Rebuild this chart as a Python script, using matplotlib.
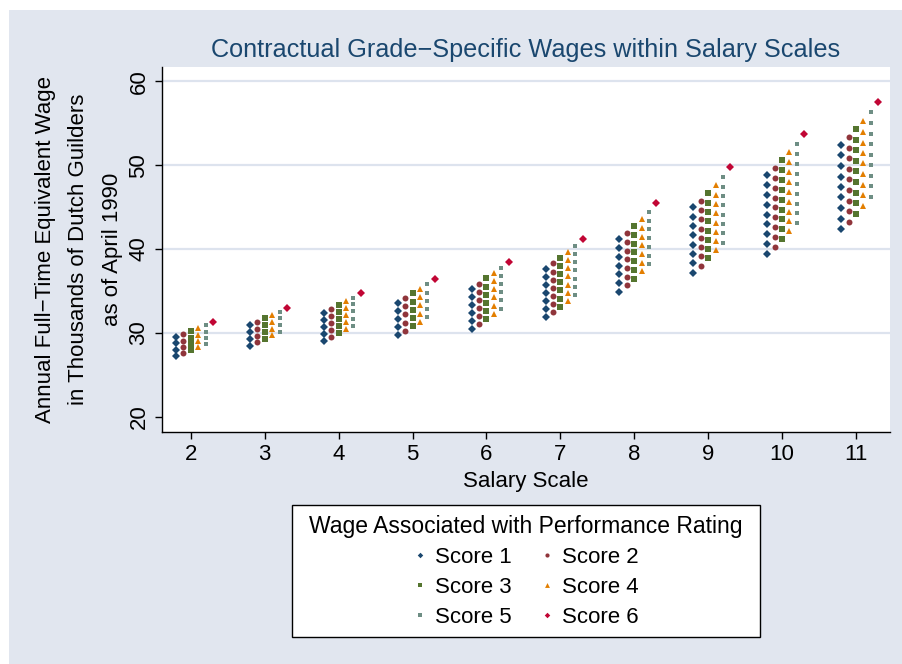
import matplotlib
matplotlib.use('Agg')
import matplotlib.pyplot as plt
from matplotlib.patches import Rectangle

plt.rcParams['font.family'] = ['Liberation Sans', 'DejaVu Sans']

# salary scales on the x axis
scales = [2, 3, 4, 5, 6, 7, 8, 9, 10, 11]

# wages (thousands of guilders) per scale, one list per performance score
score1 = [
    [29.52, 28.77, 28.02, 27.26],
    [30.90, 30.08, 29.27, 28.45],
    [32.38, 31.51, 30.68, 29.85, 29.01],
    [33.62, 32.67, 31.67, 30.68, 29.73],
    [35.29, 34.33, 33.33, 32.38, 31.43, 30.44],
    [37.62, 36.67, 35.71, 34.73, 33.77, 32.82, 31.87],
    [41.15, 40.08, 39.05, 38.02, 36.99, 35.95, 34.93],
    [44.96, 43.86, 42.74, 41.63, 40.52, 39.40, 38.30, 37.19],
    [48.82, 47.62, 46.48, 45.29, 44.10, 42.94, 41.75, 40.56, 39.37],
    [52.46, 51.19, 49.93, 48.65, 47.43, 46.15, 44.88, 43.62, 42.35],
]
score2 = [
    [29.85, 29.10, 28.33, 27.58],
    [31.31, 30.48, 29.69, 28.89],
    [32.82, 31.99, 31.15, 30.32, 29.49],
    [34.17, 33.18, 32.23, 31.24, 30.24],
    [35.88, 34.93, 33.98, 32.98, 32.02, 31.04],
    [38.33, 37.31, 36.36, 35.36, 34.40, 33.42, 32.46],
    [41.90, 40.88, 39.81, 38.77, 37.74, 36.71, 35.68],
    [45.76, 44.64, 43.54, 42.43, 41.36, 40.24, 39.13, 38.02],
    [49.64, 48.45, 47.26, 46.12, 44.96, 43.77, 42.62, 41.43, 40.29],
    [53.33, 52.07, 50.80, 49.57, 48.30, 47.02, 45.76, 44.52, 43.26],
]
score3 = [
    [30.20, 29.45, 28.69, 27.94],
    [31.75, 30.92, 30.12, 29.29],
    [33.30, 32.46, 31.63, 30.80, 29.96],
    [34.73, 33.74, 32.74, 31.75, 30.80],
    [36.51, 35.52, 34.57, 33.62, 32.62, 31.67],
    [38.98, 37.98, 37.02, 36.04, 35.08, 34.10, 33.14],
    [42.74, 41.67, 40.64, 39.61, 38.57, 37.55, 36.48],
    [46.63, 45.52, 44.40, 43.30, 42.19, 41.12, 40.00, 38.89],
    [50.60, 49.40, 48.21, 47.07, 45.88, 44.69, 43.54, 42.35, 41.19],
    [54.29, 53.02, 51.75, 50.48, 49.25, 47.98, 46.71, 45.48, 44.21],
]
score4 = [
    [30.56, 29.81, 29.05, 28.30],
    [32.14, 31.31, 30.52, 29.73],
    [33.77, 32.94, 32.11, 31.27, 30.44],
    [35.29, 34.25, 33.30, 32.31, 31.36],
    [37.11, 36.15, 35.20, 34.25, 33.26, 32.31],
    [39.64, 38.69, 37.70, 36.75, 35.76, 34.81, 33.86],
    [43.57, 42.50, 41.48, 40.44, 39.40, 38.38, 37.35],
    [47.58, 46.48, 45.36, 44.25, 43.14, 42.02, 40.95, 39.85],
    [51.55, 50.36, 49.17, 47.98, 46.79, 45.64, 44.45, 43.30, 42.11],
    [55.24, 53.98, 52.70, 51.43, 50.20, 48.93, 47.67, 46.43, 45.17],
]
score5 = [
    [30.92, 30.17, 29.40, 28.65],
    [32.55, 31.75, 30.95, 30.12],
    [34.21, 33.42, 32.58, 31.71, 30.88],
    [35.80, 34.81, 33.81, 32.86, 31.90],
    [37.74, 36.79, 35.83, 34.85, 33.89, 32.90],
    [40.36, 39.40, 38.42, 37.46, 36.48, 35.52, 34.57],
    [44.40, 43.38, 42.35, 41.27, 40.24, 39.21, 38.18],
    [48.54, 47.43, 46.31, 45.20, 44.10, 42.98, 41.87, 40.76],
    [52.50, 51.31, 50.12, 48.93, 47.79, 46.60, 45.40, 44.25, 43.06],
    [56.31, 55.05, 53.77, 52.50, 51.24, 50.00, 48.74, 47.46, 46.24],
]
score6 = [31.31, 32.98, 34.73, 36.48, 38.45, 41.15, 45.48, 49.73, 53.69, 57.58]

labels = ['Score 1', 'Score 2', 'Score 3', 'Score 4', 'Score 5', 'Score 6']

bg = '#e1e6ef'
W, H = 903, 664
fig = plt.figure(figsize=(W / 100, H / 100), dpi=100, facecolor='white')
fig.patches.append(Rectangle((9 / W, 0), 1, 1 - 10 / H, transform=fig.transFigure,
                             facecolor=bg, edgecolor='none', zorder=-10))
ax = fig.add_axes([162 / W, 1 - 432 / H, (890 - 162) / W, (432 - 67) / H])
ax.set_facecolor('white')

styles = [
    (score1, -0.2, 'D', '#1a476f', 4.0),
    (score2, -0.1, 'o', '#90353b', 4.3),
    (score3, 0.0, 's', '#55752f', 4.3),
    (score4, 0.1, '^', '#e37e00', 5.0),
    (score5, 0.2, 's', '#6e8e84', 3.3),
]
handles = []
for (data, off, mk, col, ms), lab in zip(styles, labels):
    xs, ys = [], []
    for sc, vals in zip(scales, data):
        xs += [sc + off] * len(vals)
        ys += vals
    h, = ax.plot(xs, ys, ls='none', marker=mk, color=col, ms=ms, mew=0, label=lab, zorder=3)
    handles.append(h)
h6, = ax.plot([s + 0.3 for s in scales], score6, ls='none', marker='D', color='#c10534',
              ms=4.0, mew=0, label=labels[5], zorder=3)
handles.append(h6)

ax.set_xlim(1.61, 11.46)
ax.set_ylim(18.2, 61.7)
ax.set_xticks(scales)
ax.set_yticks([20, 30, 40, 50, 60])
for g in [30, 40, 50, 60]:
    ax.axhline(g, color='#dde3ee', lw=1.6, zorder=1)
for s in ['top', 'right']:
    ax.spines[s].set_visible(False)
for s in ['left', 'bottom']:
    ax.spines[s].set_color('black')
    ax.spines[s].set_linewidth(1.0)
ax.tick_params(axis='both', direction='out', length=5, width=1, labelsize=16)
ax.tick_params(axis='x', pad=4)
ax.tick_params(axis='y', pad=4)
for t in ax.get_yticklabels():
    t.set_rotation(90)
    t.set_va('center')

ax.set_xlabel('Salary Scale', fontsize=16, labelpad=4)
ax.set_ylabel('Annual Full\u2212Time Equivalent Wage\nin Thousands of Dutch Guilders\nas of April 1990',
              fontsize=16, linespacing=1.78, labelpad=4)
ax.set_title('Contractual Grade\u2212Specific Wages within Salary Scales', fontsize=18.2,
             color='#1a476f', pad=7)

# legend: row-wise order like the original (matplotlib fills columns first)
order = [0, 2, 4, 1, 3, 5]
fig.patches.append(Rectangle((292 / W, 1 - 637 / H), (760 - 292) / W, (637 - 505) / H,
                             transform=fig.transFigure, facecolor='white',
                             edgecolor='black', lw=1.0, zorder=1))
leg = fig.legend([handles[i] for i in order], [labels[i] for i in order], ncol=2,
                 loc='upper center', bbox_to_anchor=(526 / W, 1 - 515 / H), fontsize=16,
                 title='Wage Associated with Performance Rating', title_fontsize=16.5,
                 frameon=False, markerscale=0.7, handlelength=0.6, handletextpad=0.35,
                 columnspacing=1.3, labelspacing=0.4, borderpad=0, borderaxespad=0)

fig.savefig('out.png', dpi=100, facecolor=fig.get_facecolor())
